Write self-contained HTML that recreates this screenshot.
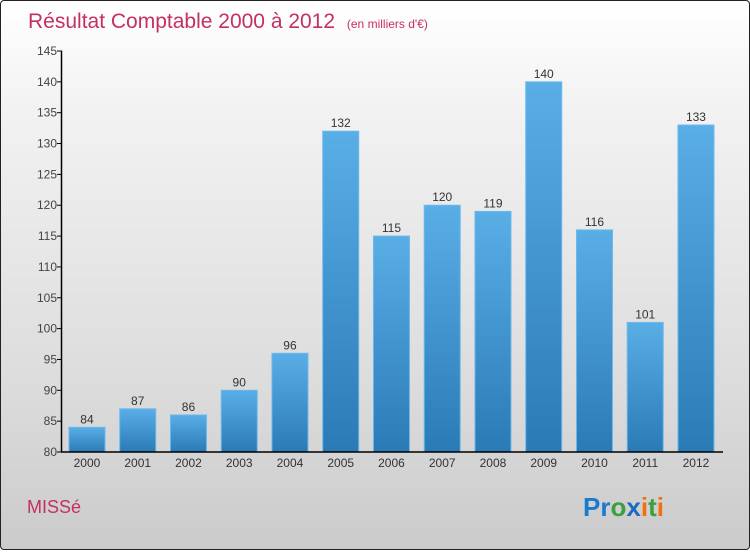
<!DOCTYPE html>
<html><head><meta charset="utf-8"><style>
body{margin:0;width:750px;height:550px;overflow:hidden;font-family:"Liberation Sans",sans-serif}
#c{position:absolute;left:0;top:0;width:748px;height:548px;border:1px solid #222;border-radius:4px;background:linear-gradient(#ffffff,#f2f2f2 20%,#dcdcdc 70%,#cbcbcb)}
</style></head><body>
<div id="c">
<svg width="750" height="550" id="svg">
<defs><linearGradient id="bg" x1="0" y1="0" x2="0" y2="1"><stop offset="0" stop-color="#5aaee6"/><stop offset="1" stop-color="#2a7ab6"/></linearGradient></defs>
<text x="27" y="27" font-size="21" fill="#c4305f">Résultat Comptable 2000 à 2012 <tspan font-size="12" dx="6">(en milliers d'€)</tspan></text>
<text x="26" y="512" font-size="18" fill="#c4305f">MISSé</text>
<text x="582" y="515" font-size="26" font-weight="bold"><tspan fill="#1a7ad0">Pr</tspan><tspan fill="#3aa040">o</tspan><tspan fill="#1a6ac0">x</tspan><tspan fill="#f07010">i</tspan><tspan fill="#3aa040">t</tspan><tspan fill="#f07010">i</tspan></text>
<g id="g"></g>
</svg></div>
<script>
const categories=["2000","2001","2002","2003","2004","2005","2006","2007","2008","2009","2010","2011","2012"];
const values=[84,87,86,90,96,132,115,120,119,140,116,101,133];
const ticks=[80,85,90,95,100,105,110,115,120,125,130,135,140,145];
const NS="http://www.w3.org/2000/svg",g=document.getElementById('g');
const x0=60.6,bw=50.75,yMin=80,yMax=145,yTop=50,yBot=451;
const y=v=>yBot-(v-yMin)/(yMax-yMin)*(yBot-yTop);
function mk(t,a,txt){const e=document.createElementNS(NS,t);for(const k in a)e.setAttribute(k,a[k]);if(txt!=null)e.textContent=txt;g.appendChild(e);return e;}
values.forEach((v,i)=>{const cx=x0+bw*(i+0.5);
const r=mk('rect',{x:cx-18,y:y(v),width:36,height:yBot-y(v),fill:'url(#bg)',stroke:'#6ab8ee','stroke-width':1});


const t=mk('text',{x:cx,y:y(v)-4,'font-size':12,'text-anchor':'middle',fill:'#333'},v);


const l=mk('text',{x:cx,y:yBot+15,'font-size':12,'text-anchor':'middle',fill:'#333'},categories[i]);


});
ticks.forEach(v=>{const tk=mk('line',{x1:56,x2:61,y1:y(v),y2:y(v),stroke:'#000'});


const t=mk('text',{x:56,y:y(v)+4,'font-size':12,'text-anchor':'end',fill:'#444'},v);

});
const ya=mk('line',{x1:60.5,x2:60.5,y1:yTop,y2:yBot,stroke:'#000','stroke-width':1.5});


const xa=mk('line',{x1:60,x2:722,y1:yBot,y2:yBot,stroke:'#000','stroke-width':1.5});


</script></body></html>
